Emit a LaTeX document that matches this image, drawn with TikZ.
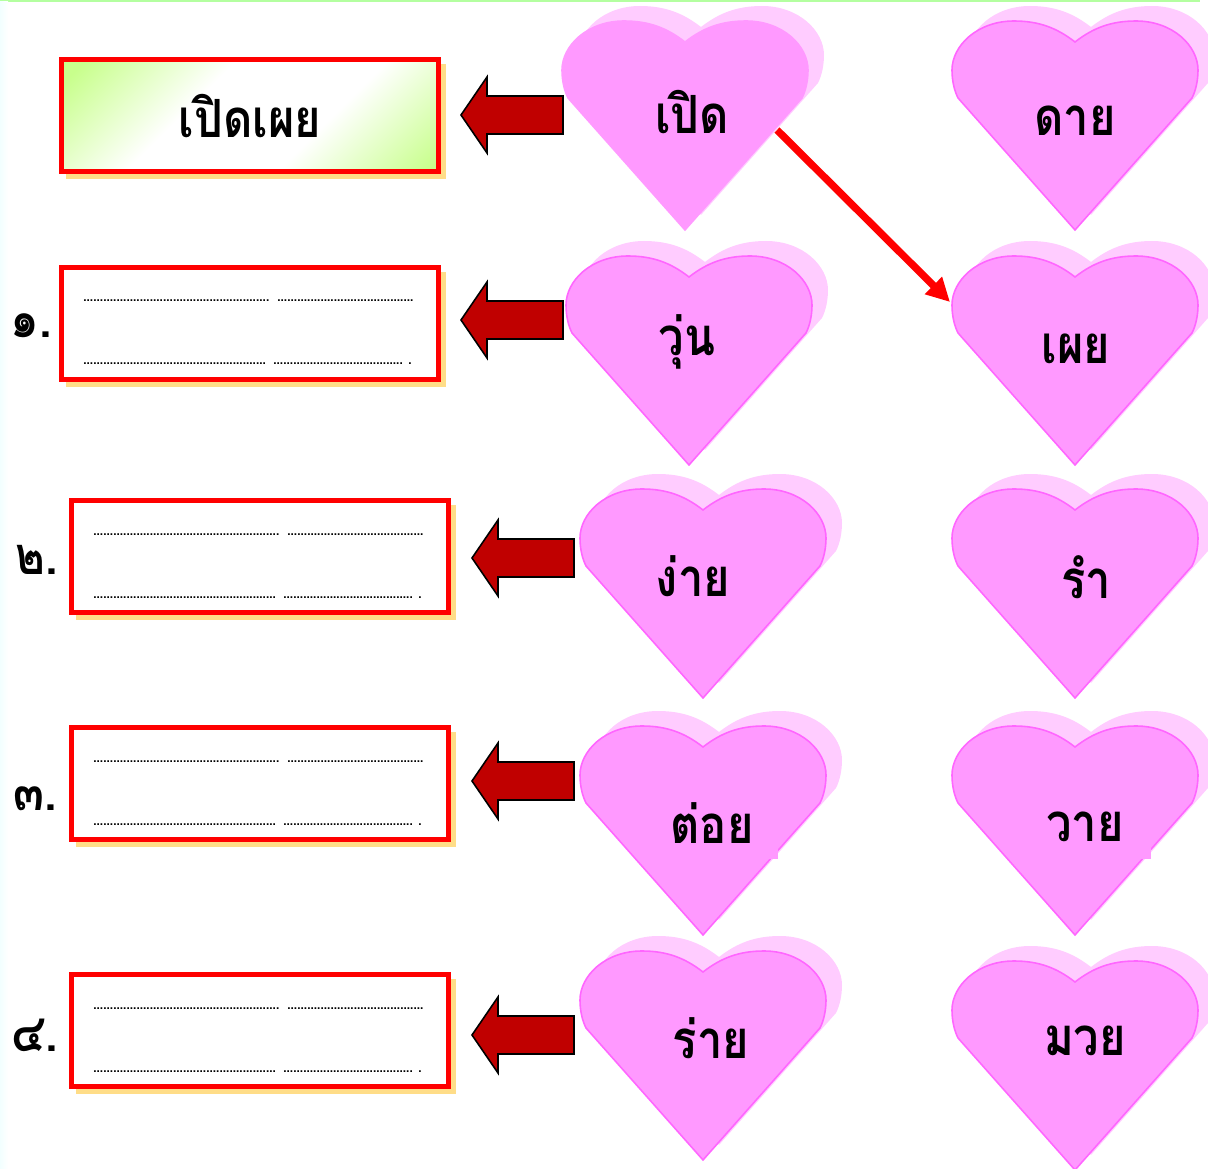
\documentclass[tikz,border=0pt]{standalone}
\usepackage{fontspec}
\usetikzlibrary{arrows.meta}
\newfontfamily\thaifont[Script=Thai,FakeStretch=0.86]{Loma}
\newfontfamily\dotfont{Liberation Sans}
\definecolor{lovefill}{HTML}{FF99FF}
\definecolor{loveline}{HTML}{FF66FF}
\definecolor{loveback}{HTML}{FFCCFF}
\definecolor{boxback}{HTML}{FFDD88}
\definecolor{arrowred}{HTML}{C00000}
\definecolor{topgreen}{HTML}{B4FFA0}
\definecolor{glowgreen}{HTML}{C8FF8C}
\pgfdeclarehorizontalshading{glowband}{100bp}{color(0bp)=(glowgreen); color(18bp)=(glowgreen); color(40bp)=(white); color(62bp)=(white); color(84bp)=(glowgreen); color(100bp)=(glowgreen)}
\newcommand{\dotsrow}[1]{\foreach \n in {1,...,#1}{.}}
\begin{document}
\begin{tikzpicture}
[x=0.02cm,y=-0.02cm,
 lovepath/.pic={
  \path[pic actions] (0,0) .. controls (18,-14) and (36,-21) .. (61,-21)
    .. controls (98,-21) and (123,4) .. (123,28)
    .. controls (123,38) and (121,48) .. (117,56) -- (0,188)
    -- (-117,56) .. controls (-121,48) and (-123,38) .. (-123,28)
    .. controls (-123,4) and (-98,-21) .. (-61,-21)
    .. controls (-36,-21) and (-18,-14) .. (0,0) -- cycle;
 },
 wordlabel/.style={font=\thaifont\bfseries\fontsize{30pt}{30pt}\selectfont,inner sep=0pt},
 numlabel/.style={font=\thaifont\bfseries\fontsize{30pt}{30pt}\selectfont,inner sep=0pt},
 dotlabel/.style={font=\dotfont\bfseries\fontsize{6.8pt}{6.8pt}\selectfont,inner sep=0pt,anchor=base west},
 answerbox/.style={draw=red,line width=3pt,fill=white,minimum width=7.54cm,minimum height=2.24cm,anchor=north west,inner sep=0pt},
 blockarrow/.style={draw=black,line width=0.9pt,fill=arrowred,line join=miter},
 linkarrow/.style={draw=red,line width=4.2pt,-{Triangle[length=0.47cm,width=0.46cm]}}]
\useasboundingbox (0,0) rectangle (1208,1169);
%% background strips
\fill[topgreen] (0,0) rectangle (1200,2);
\shade[left color=cyan!5,right color=white] (0,2) rectangle (8,1169);
%% the hearts
\foreach \xpos/\ypos/\rim in {685/42/lovefill, 689/277/loveline, 703/510/loveline,
  703/747/loveline, 703/972/loveline, 1075/42/loveline, 1075/277/loveline,
  1075/510/loveline, 1075/747/loveline, 1075/982/loveline} {
  \pic[fill=loveback] at (\xpos+16,\ypos-15) {lovepath};
  \pic[fill=lovefill,draw=\rim,line width=0.9pt] at (\xpos,\ypos) {lovepath};
}
\foreach \xpos in {765,1138} {
  \fill[lovefill] (\xpos,846) rectangle (\xpos+13,859);
}
%% the words on the hearts
\foreach \xpos/\ypos/\word/\tag in {692/112/เปิด/open, 687/342/วุ่น/chaos, 693/576/ง่าย/easy,
  712/823/ต่อย/punch, 711/1038/ร่าย/chant, 1075/121/ดาย/weed, 1076/349/เผย/show,
  1086/577/รำ/dance, 1085/827/วาย/end, 1085/1041/มวย/boxing} {
  \node[wordlabel] (\tag) at (\xpos,\ypos) {\word};
}
%% the answer boxes with their shadows
\foreach \xpos/\ypos/\tag in {59/265/one, 69/498/two, 69/725/three, 69/972/four} {
  \fill[boxback] (\xpos+7,\ypos+7) rectangle (\xpos+387,\ypos+122);
  \node[answerbox] (box\tag) at (\xpos,\ypos) {};
  \node[dotlabel] (upperleft\tag) at (\xpos+24,\ypos+37) {\dotsrow{56}};
  \node[dotlabel] (upperright\tag) at (\xpos+218,\ypos+37) {\dotsrow{41}};
  \node[dotlabel] (lowerleft\tag) at (\xpos+24,\ypos+100) {\dotsrow{55}};
  \node[dotlabel] (lowerright\tag) at (\xpos+214,\ypos+100) {\dotsrow{39}};
  \node[dotlabel] (stop\tag) at (\xpos+349,\ypos+100) {.};
}
%% the sample box
\fill[boxback] (66,64) rectangle (446,179);
\node[answerbox,shade,shading=glowband,shading angle=-45] (boxsample) at (59,57) {};
\node[wordlabel] (sample) at (250,116) {เปิดเผย};
%% the numbers
\foreach \xpos/\ypos/\num/\tag in {31/326/๑./one, 37/560/๒./two, 35/799/๓./three, 35/1035/๔./four} {
  \node[numlabel] (num\tag) at (\xpos,\ypos) {\num};
}
%% the block arrows
\foreach \xpos/\ypos in {461/115, 461/320, 472/558, 472/781, 472/1035} {
  \draw[blockarrow] (\xpos,\ypos) -- (\xpos+26,\ypos-38) -- (\xpos+26,\ypos-19)
    -- (\xpos+102,\ypos-19) -- (\xpos+102,\ypos+19) -- (\xpos+26,\ypos+19)
    -- (\xpos+26,\ypos+38) -- cycle;
}
%% the example link
\coordinate (linkstart) at (777,130);
\coordinate (linkend) at (950,302);
\draw[linkarrow] (linkstart) -- (linkend);
\end{tikzpicture}
\end{document}
